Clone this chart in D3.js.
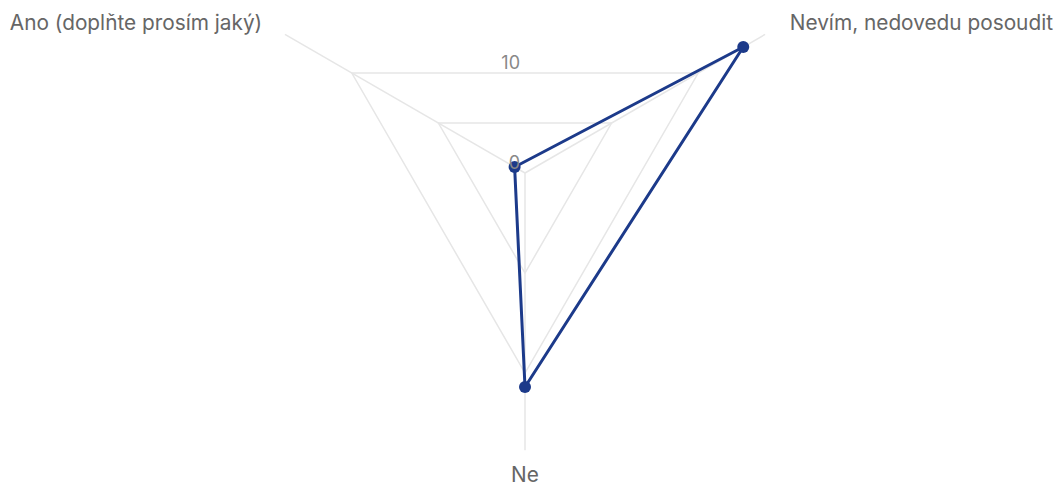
<!DOCTYPE html>
<html>
<head>
<meta charset="utf-8">
<script src="https://cdn.jsdelivr.net/npm/d3@7"></script>
<style>
  body { margin: 0; background: #fff; }
  svg { font-family: Inter, "Noto Sans", sans-serif; }
</style>
</head>
<body>
<div id="vis"></div>
<script>
// data
const CATEGORIES = ["Ano (doplňte prosím jaký)", "Nevím, nedovedu posoudit", "Ne"];
const VALUES = [0.6, 12.6, 10.7];
const GRID_LEVELS = [5, 10];
const TICK_LABELS = [0, 10];

const WIDTH = 1056;
const HEIGHT = 486;
const CENTER = {x: 525, y: 173};
const LINE_COLOR = "#1c3a8a";

const FRAME = d3.select("#vis")
                .append("svg")
                .attr("width", WIDTH)
                .attr("height", HEIGHT);

// radial scale, axis lines run to 1.1 x max value
const MAX_VAL = d3.max(VALUES) * 1.1;
const R_SCALE = d3.scaleLinear()
                  .domain([0, 10])
                  .range([0, 200]);

// first axis at upper-left, then clockwise
const angle = (i) => -Math.PI / 3 + i * 2 * Math.PI / CATEGORIES.length;
const pt = (i, v) => [CENTER.x + R_SCALE(v) * Math.sin(angle(i)),
                      CENTER.y - R_SCALE(v) * Math.cos(angle(i))];

// grid triangles
FRAME.selectAll(".grid")
     .data(GRID_LEVELS)
     .enter()
     .append("polygon")
     .attr("points", d => CATEGORIES.map((c, i) => pt(i, d).join(",")).join(" "))
     .attr("fill", "none")
     .attr("stroke", "#e6e6e6")
     .attr("stroke-width", 1.5);

// axis lines
FRAME.selectAll(".axis")
     .data(CATEGORIES)
     .enter()
     .append("line")
     .attr("x1", CENTER.x)
     .attr("y1", CENTER.y)
     .attr("x2", (d, i) => pt(i, MAX_VAL)[0])
     .attr("y2", (d, i) => pt(i, MAX_VAL)[1])
     .attr("stroke", "#e6e6e6")
     .attr("stroke-width", 1.5);

// category labels
const LABEL_R = R_SCALE.invert(300);
FRAME.selectAll(".label")
     .data(CATEGORIES)
     .enter()
     .append("text")
     .attr("x", (d, i) => pt(i, LABEL_R)[0] + (i === 1 ? 5 : (i === 0 ? -3 : 0)))
     .attr("y", (d, i) => pt(i, LABEL_R)[1] + (i === 2 ? 2 : 0))
     .attr("dy", "0.35em")
     .attr("text-anchor", (d, i) => i === 0 ? "end" : (i === 1 ? "start" : "middle"))
     .attr("font-size", 20.8)
     .attr("fill", "#666")
     .text(d => d);

// data polygon
const LINE = d3.line().curve(d3.curveLinearClosed);
FRAME.append("path")
     .attr("d", LINE(VALUES.map((v, i) => pt(i, v))))
     .attr("fill", "none")
     .attr("stroke", LINE_COLOR)
     .attr("stroke-width", 3)
     .attr("stroke-linejoin", "round");

FRAME.selectAll(".point")
     .data(VALUES)
     .enter()
     .append("circle")
     .attr("cx", (d, i) => pt(i, d)[0])
     .attr("cy", (d, i) => pt(i, d)[1])
     .attr("r", 6)
     .attr("fill", LINE_COLOR);

// tick labels, drawn on top at the edge midpoint straight above the center
FRAME.selectAll(".tick")
     .data(TICK_LABELS)
     .enter()
     .append("text")
     .attr("x", CENTER.x - 5)
     .attr("y", d => CENTER.y - R_SCALE(d) / 2 - 4)
     .attr("text-anchor", "end")
     .attr("font-size", 18)
     .attr("fill", "#888")
     .text(d => d);
</script>
</body>
</html>
